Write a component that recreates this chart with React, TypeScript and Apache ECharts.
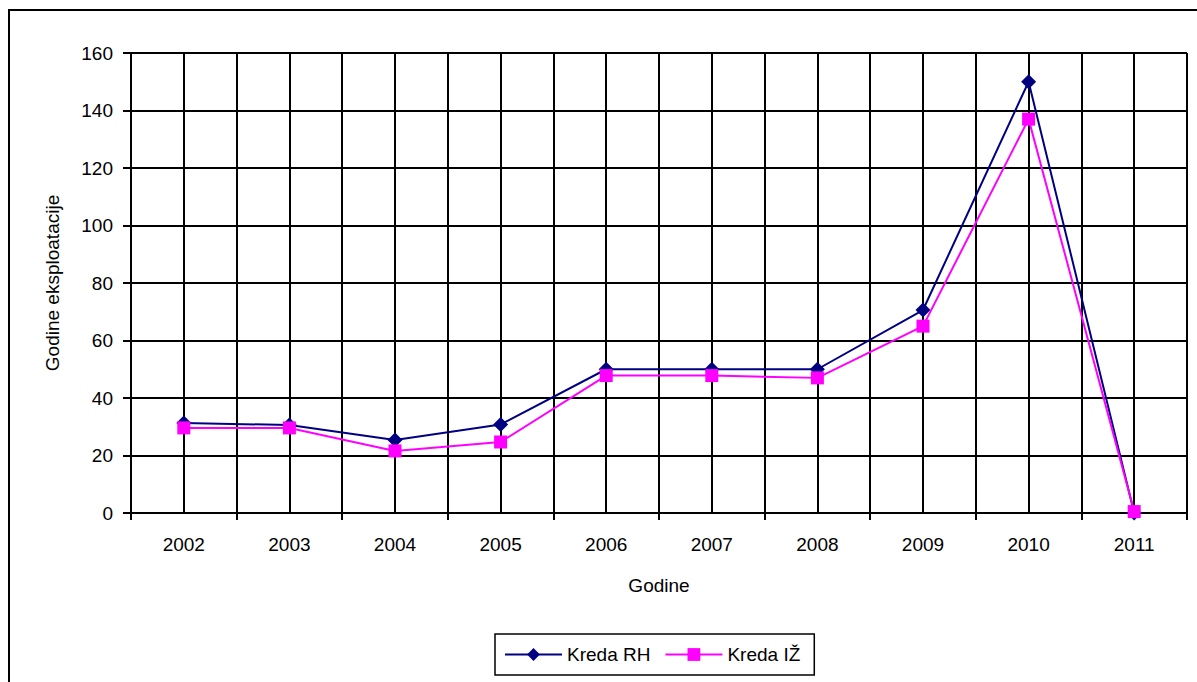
import React, { useEffect, useRef } from "react";
import * as echarts from "echarts";

const years = ["2002", "2003", "2004", "2005", "2006", "2007", "2008", "2009", "2010", "2011"];
const kredaRH = [31.3, 30.6, 25.4, 30.8, 50, 50, 50, 70.6, 150, 0];
const kredaIZ = [29.6, 29.6, 21.6, 24.7, 47.8, 47.8, 47, 65, 137, 0.5];
const halfSlots = new Array(years.length * 2).fill("");

const FONT = "'Liberation Sans', Arial, sans-serif";

export default function App() {
  const ref = useRef<HTMLDivElement>(null);
  useEffect(() => {
    document.body.style.margin = "0";
    const chart = echarts.init(ref.current!, null, { renderer: "svg" });
    chart.setOption({
      animation: false,
      backgroundColor: "#ffffff",
      textStyle: { fontFamily: FONT, color: "#000" },
      grid: { left: 131, right: 10, top: 53, bottom: 169, containLabel: false },
      graphic: [
        {
          type: "rect",
          shape: { x: 9, y: 10, width: 1200, height: 700 },
          style: { fill: "none", stroke: "#000", lineWidth: 2 },
          silent: true,
        },
      ],
      legend: {
        left: 495,
        top: 634,
        orient: "horizontal",
        padding: [11, 14, 11, 9],
        itemWidth: 57,
        itemHeight: 16,
        itemGap: 14,
        borderColor: "#000",
        borderWidth: 1.5,
        textStyle: { fontFamily: FONT, fontSize: 19, color: "#000", padding: [0, 0, 0, 0] },
        data: ["Kreda RH", "Kreda IŽ"],
      },
      xAxis: [
        {
          type: "category",
          data: years,
          boundaryGap: true,
          name: "Godine",
          nameLocation: "middle",
          nameGap: 63,
          nameTextStyle: { fontFamily: FONT, fontSize: 19, color: "#000" },
          axisLine: { show: true, lineStyle: { color: "#000", width: 2 } },
          axisTick: { show: true, alignWithLabel: false, length: 7, lineStyle: { color: "#000", width: 2 } },
          axisLabel: { fontFamily: FONT, fontSize: 19, color: "#000", margin: 22 },
          splitLine: { show: true, interval: 0, lineStyle: { color: "#000", width: 2 } },
        },
        {
          type: "category",
          data: halfSlots,
          boundaryGap: true,
          position: "bottom",
          axisLine: { show: false },
          axisTick: { show: false },
          axisLabel: { show: false },
          splitLine: { show: true, interval: 0, lineStyle: { color: "#000", width: 2 } },
        },
      ],
      yAxis: {
        type: "value",
        min: 0,
        max: 160,
        interval: 20,
        name: "Godine eksploatacije",
        nameLocation: "middle",
        nameGap: 69,
        nameRotate: 90,
        nameTextStyle: { fontFamily: FONT, fontSize: 19, color: "#000" },
        axisLine: { show: true, lineStyle: { color: "#000", width: 2 } },
        axisTick: { show: true, inside: false, length: 8, lineStyle: { color: "#000", width: 2 } },
        axisLabel: { fontFamily: FONT, fontSize: 19, color: "#000", margin: 18 },
        splitLine: { show: true, lineStyle: { color: "#000", width: 2 } },
      },
      series: [
        {
          name: "Kreda RH",
          type: "line",
          xAxisIndex: 0,
          data: kredaRH,
          symbol: "diamond",
          symbolSize: 15,
          showAllSymbol: true,
          lineStyle: { color: "#000080", width: 2 },
          itemStyle: { color: "#000080" },
          z: 3,
        },
        {
          name: "Kreda IŽ",
          type: "line",
          xAxisIndex: 0,
          data: kredaIZ,
          symbol: "rect",
          symbolSize: 13,
          showAllSymbol: true,
          lineStyle: { color: "#ff00ff", width: 2 },
          itemStyle: { color: "#ff00ff" },
          z: 4,
        },
      ],
    });
    return () => chart.dispose();
  }, []);
  return <div ref={ref} style={{ width: 1197, height: 682 }} />;
}
